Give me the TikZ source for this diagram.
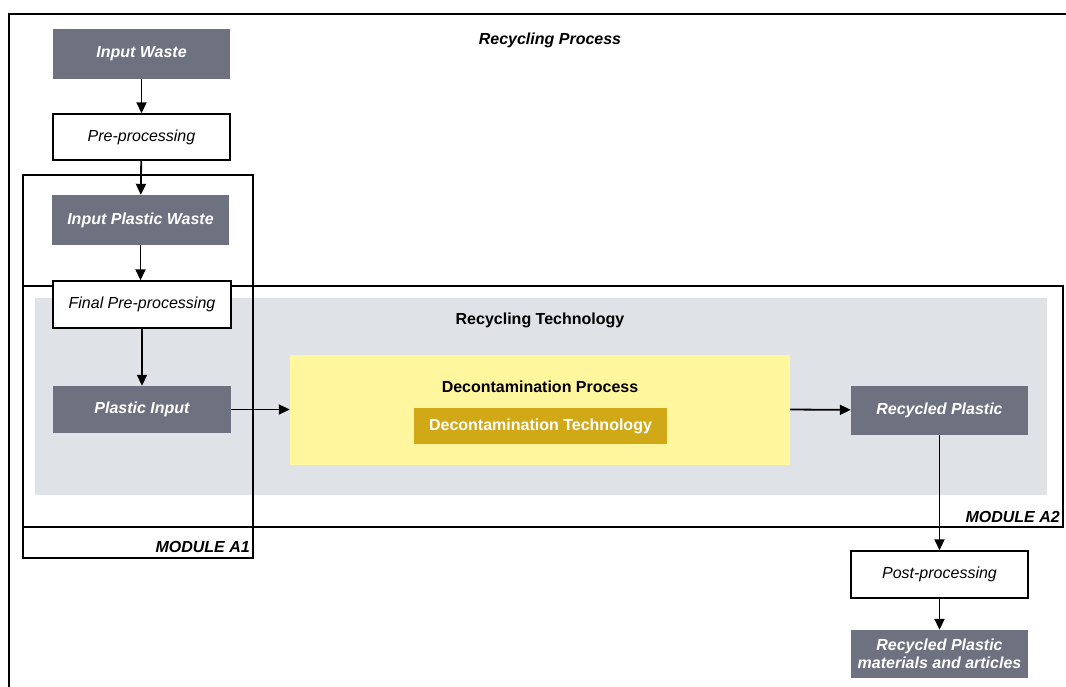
\documentclass[tikz,border=0pt]{standalone}
\usepackage{fontspec}
\setmainfont{Liberation Sans}
\usetikzlibrary{arrows.meta}
\definecolor{darkbox}{HTML}{6E7280}
\definecolor{techbg}{HTML}{DFE2E7}
\definecolor{decobg}{HTML}{FFF69E}
\definecolor{gold}{HTML}{D1A816}
\tikzset{
  darknode/.style={fill=darkbox, draw=none, text=white, font=\fontsize{16}{18.5}\selectfont\bfseries\itshape, align=center, inner sep=0pt},
  whitenode/.style={fill=white, draw=black, line width=1.4pt, text=black, font=\fontsize{16}{18.5}\selectfont\itshape, inner sep=0pt},
  frame/.style={draw=black, line width=1.6pt},
  arr/.style={draw=black, line width=1.8pt, -{Triangle[length=11pt,width=10pt]}},
  lbl/.style={font=\fontsize{16}{18.5}\selectfont\bfseries\itshape, inner sep=0pt}
}
\begin{document}
\begin{tikzpicture}[x=1pt,y=1pt]
\useasboundingbox (0,0) rectangle (1066,-686);
% outer frame
\coordinate (ofbl) at (9,-690);
\coordinate (oftl) at (9,-14);
\coordinate (oftr) at (1070,-14);
\draw[frame] (ofbl) -- (oftl) -- (oftr);
\node[lbl] (title) at (550,-40.5) {Recycling Process};
% gray technology background
\fill[techbg] (35,-298) rectangle (1047,-495);
\node[font=\fontsize{16}{18.5}\selectfont\bfseries, inner sep=0pt] (techlbl) at (540,-320.5) {Recycling Technology};
% modules
\draw[frame] (23,-175) rectangle (253,-558);
\draw[frame] (23,-286) rectangle (1063,-527);
\node[lbl, anchor=east] (a1) at (250,-546.5) {MODULE A1};
\node[lbl, anchor=east] (a2) at (1060,-516.5) {MODULE A2};
% decontamination
\node[fill=decobg, minimum width=500pt, minimum height=110pt, inner sep=0pt] (deco) at (540,-410) {};
\node[font=\fontsize{16}{18.5}\selectfont\bfseries, inner sep=0pt] (decolbl) at (540,-386.5) {Decontamination Process};
\node[fill=gold, text=white, font=\fontsize{16}{18.5}\selectfont\bfseries, minimum width=253pt, minimum height=36pt, inner sep=0pt] (dtech) at (540.5,-426) {Decontamination Technology};
% nodes
\node[darknode, minimum width=177pt, minimum height=50pt] (iw) at (141.5,-54) {Input Waste};
\node[whitenode, minimum width=177pt, minimum height=46pt] (pre) at (141.5,-137) {Pre-processing};
\node[darknode, minimum width=177pt, minimum height=50pt] (ipw) at (140.5,-220) {Input Plastic Waste};
\node[whitenode, minimum width=178pt, minimum height=47pt] (fpre) at (142,-304.5) {Final Pre-processing};
\node[darknode, minimum width=178pt, minimum height=47pt] (pin) at (142,-409.5) {Plastic Input};
\node[darknode, minimum width=177pt, minimum height=49pt] (rp) at (939.5,-410.5) {Recycled Plastic};
\node[whitenode, minimum width=177pt, minimum height=47pt] (post) at (939.5,-574.5) {Post-processing};
\node[darknode, minimum width=177pt, minimum height=48pt] (rpm) at (939.5,-654) {Recycled Plastic\\materials and articles};
% arrows
\draw[arr] (iw) -- (pre);
\draw[arr] (pre) -- (ipw);
\draw[arr] (ipw) -- (ipw |- fpre.north);
\draw[arr] (fpre) -- (pin);
\draw[arr] (pin) -- (deco.west |- pin);
\draw[arr] (deco.east |- pin) -- (rp);
\draw[arr] (rp) -- (post);
\draw[arr] (post) -- (rpm);
\end{tikzpicture}
\end{document}
